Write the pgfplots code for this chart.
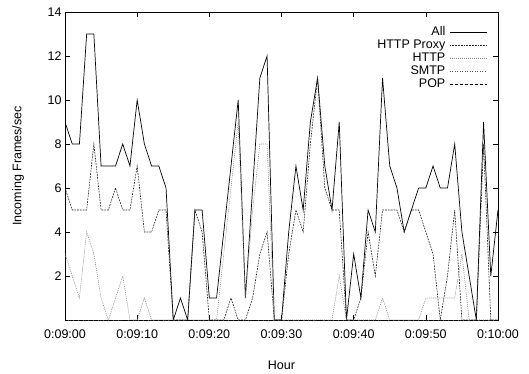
\documentclass[border=0pt]{standalone}
\usepackage{pgfplots}
\pgfplotsset{compat=1.18}
\usepackage{pgfplotstable}
\usepackage{fontspec}
\setmainfont{Liberation Sans}

\pgfplotstableread{
t all proxy http smtp pop
0 9 6 3 0 0
1 8 5 2 0 0
2 8 5 1 0 0
3 13 5 4 0 0
4 13 8 3 0 0
5 7 5 1 0 0
6 7 5 0 0 0
7 7 6 1 0 0
8 8 5 2 0 0
9 7 5 0 0 0
10 10 7 0 0 0
11 8 4 1 0 0
12 7 4 0 0 0
13 7 5 0 0 0
14 6 5 0 0 0
15 0 0 0 0 0
16 1 0 0 0 0
17 0 0 0 0 0
18 5 5 0 0 0
19 5 4 0 0 0
20 1 0 0 0 0
21 1 0 0 0 0
22 4 0 3 0 0
23 7 1 6 0 0
24 10 0 9 0 0
25 1 0 1 0 0
26 6 1 5 0 0
27 11 3 8 0 0
28 12 4 8 0 0
29 0 0 0 0 0
30 0 0 0 0 0
31 4 3 0 0 0
32 7 5 0 0 0
33 5 4 0 0 0
34 9 8 0 0 0
35 11 11 0 0 0
36 7 6 0 0 0
37 5 5 0 0 0
38 9 5 2 0 0
39 0 0 0 0 0
40 3 0 0 0 0
41 1 1 0 0 0
42 5 4 0 0 0
43 4 2 0 0 0
44 11 5 1 0 0
45 7 5 0 0 0
46 6 5 0 0 0
47 4 4 0 0 0
48 5 5 0 0 0
49 6 5 0 0 0
50 6 4 1 0 0
51 7 3 1 0 0
52 6 0 1 0 0
53 6 2 1 0 0
54 8 5 1 0 0
55 4 0 3 0 0
56 2 0 0 0 0
57 0 0 0 0 0
58 9 8 0 0 0
59 2 0 0 0 0
60 5 0 0 0 0
}\data

\begin{document}
\begin{tikzpicture}[font=\fontsize{12.5}{14}\selectfont]
\path[use as bounding box] (-65pt,-54pt) rectangle (464pt,320pt);
\begin{axis}[
  at={(0,0)}, anchor=south west,
  scale only axis, width=433pt, height=308pt,
  xmin=0, xmax=60, ymin=0, ymax=14,
  xtick={0,10,...,60},
  xticklabels={0:09:00,0:09:10,0:09:20,0:09:30,0:09:40,0:09:50,0:10:00},
  ytick={2,4,...,14},
  /pgf/number format/assume math mode=true,
  tick label style={font=\fontsize{12.5}{14}\selectfont},
  xticklabel style={yshift=-6pt},
  label style={font=\fontsize{12.5}{14}\selectfont},
  tick align=inside, major tick length=5pt,
  axis line style={line width=0.6pt},
  every tick/.style={black, line width=0.6pt},
  xlabel={Hour}, ylabel={Incoming Frames/sec},
  xlabel style={at={(axis description cs:0.5,-0.146)}, anchor=center},
  ylabel style={at={(axis description cs:-0.108,0.5)}, anchor=center, rotate=0},
  legend style={draw=none, fill=none, at={(0.982,0.965)}, anchor=north east,
    font=\fontsize{12.5}{14}\selectfont, row sep=-1.5pt,
    nodes={inner xsep=4pt, inner ysep=1.5pt, text height=9pt, text depth=2.5pt}},
  legend cell align=right,
  legend plot pos=right,
  legend image code/.code={\draw[#1] (0cm,0cm) -- (1.3cm,0cm);},
]
\addplot[black, line width=0.7pt] table[x=t,y=all]{\data};
\addlegendentry{All}
\addplot[black!85, line width=0.6pt, dash pattern=on 1.8pt off 1pt] table[x=t,y=proxy]{\data};
\addlegendentry{HTTP Proxy}
\addplot[black!45, line width=0.6pt, dash pattern=on 1pt off 1pt] table[x=t,y=http]{\data};
\addlegendentry{HTTP}
\addplot[black!65, line width=0.6pt, dash pattern=on 1pt off 1.5pt] table[x=t,y=smtp]{\data};
\addlegendentry{SMTP}
\addplot[black, line width=0.6pt, dash pattern=on 3pt off 2pt] table[x=t,y=pop]{\data};
\addlegendentry{POP}
\end{axis}
\end{tikzpicture}
\end{document}
